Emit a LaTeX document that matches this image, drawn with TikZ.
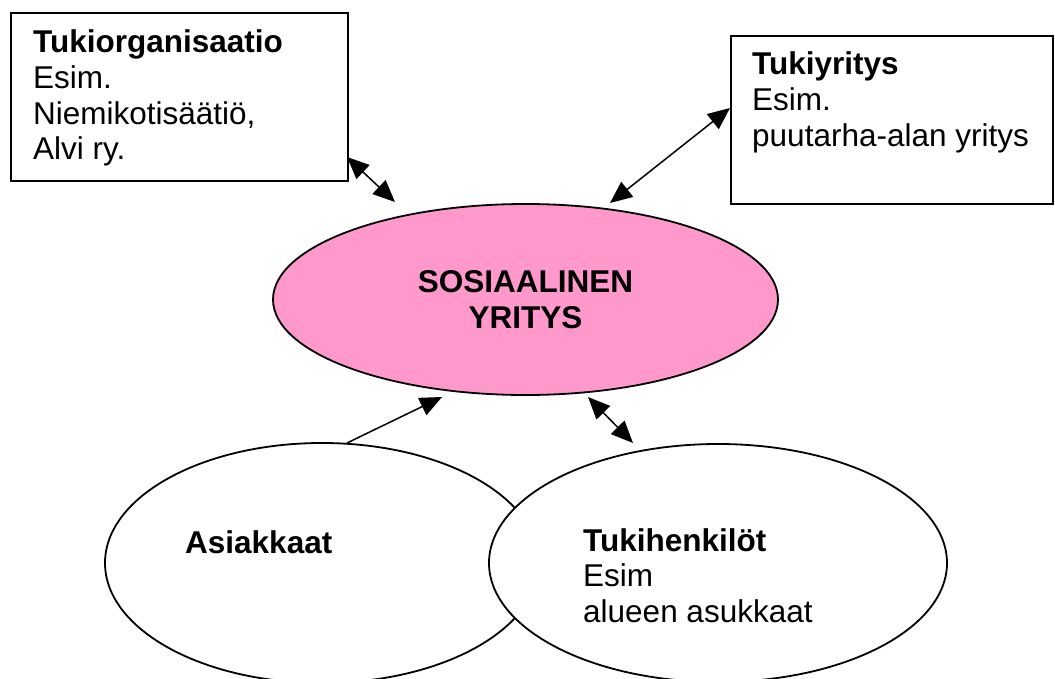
\documentclass[tikz,border=0pt]{standalone}
\usepackage{fontspec}
\setmainfont{Liberation Sans}
\usetikzlibrary{arrows.meta,shapes.geometric}
\definecolor{pinkfill}{RGB}{255,153,204}
\begin{document}
\begin{tikzpicture}[x=1pt,y=-1pt,
  every node/.style={font=\fontsize{31.5}{35.6}\selectfont},
  box/.style={draw, line width=2.2pt, inner sep=0pt, anchor=north west},
  txt/.style={anchor=base west, inner sep=0pt},
  oval/.style={ellipse, draw, line width=1.8pt, fill=white, inner sep=0pt},
  link/.style={line width=1.5pt, -{Triangle[length=22pt,width=19pt]}},
  link2/.style={line width=1.5pt, {Triangle[length=22pt,width=19pt]}-{Triangle[length=22pt,width=19pt]}}]
\useasboundingbox (0,0) rectangle (1055,679);

% boxes
\node[box, minimum width=337pt, minimum height=168pt] (org) at (10,12) {};
\node[txt] (orgtxt) at (33,53) {\begin{tabular}[t]{@{}l@{}}\textbf{Tukiorganisaatio}\\Esim.\\Niemikotisäätiö,\\Alvi ry.\end{tabular}};

\node[box, minimum width=322pt, minimum height=168pt] (yr) at (730,35) {};
\node[txt] (yrtxt) at (752,75) {\begin{tabular}[t]{@{}l@{}}\textbf{Tukiyritys}\\Esim.\\puutarha-alan yritys\end{tabular}};

% central ellipse
\node[oval, fill=pinkfill, minimum width=505pt, minimum height=191pt, align=center, font=\fontsize{31.5}{35.6}\selectfont\bfseries] (sos) at (525.5,299.5) {SOSIAALINEN\\YRITYS};

% lower ellipses
\node[oval, minimum width=434pt, minimum height=240pt] (asi) at (322,563) {};
\node[txt] (asitxt) at (185,553) {\textbf{Asiakkaat}};
\node[oval, minimum width=458pt, minimum height=238pt] (tuk) at (718,563) {};
\node[txt] (tuktxt) at (583,551) {\begin{tabular}[t]{@{}l@{}}\textbf{Tukihenkilöt}\\Esim\\alueen asukkaat\end{tabular}};

% connector ends
\coordinate (a1s) at (347,157);
\coordinate (a1e) at (395,202);
\coordinate (a2s) at (610,203);
\coordinate (a2e) at (730,108);
\coordinate (a3s) at (347,443);
\coordinate (a3e) at (442,397);
\coordinate (a4s) at (588,397);
\coordinate (a4e) at (633,443);

\draw[link2] (a1s) -- (a1e);
\draw[link2] (a2s) -- (a2e);
\draw[link] (a3s) -- (a3e);
\draw[link2] (a4s) -- (a4e);
\end{tikzpicture}
\end{document}
